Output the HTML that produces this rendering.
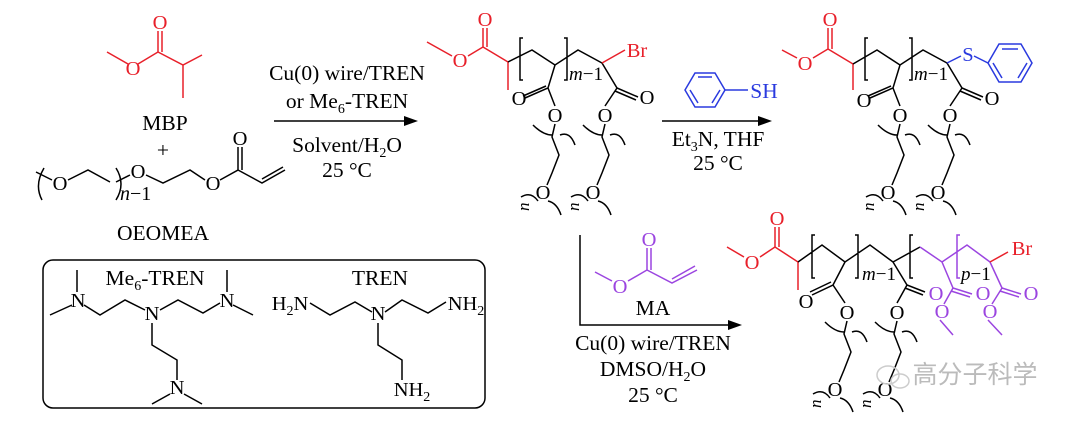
<!DOCTYPE html>
<html><head><meta charset="utf-8"><style>
html,body{margin:0;padding:0;background:#fff;}
svg{display:block;}
text{font-family:"Liberation Serif","Noto Serif CJK SC",serif;font-size:21.5px;}
.l{stroke:#000;stroke-width:1.5;fill:none;}
.r{stroke:#e8202a;stroke-width:1.5;fill:none;}
.b{stroke:#2a3adf;stroke-width:1.5;fill:none;}
.p{stroke:#9b45e0;stroke-width:1.5;fill:none;}
.at{font-size:20.5px;text-anchor:middle;}
</style></head><body>
<svg width="1080" height="422" viewBox="0 0 1080 422" xmlns="http://www.w3.org/2000/svg">
<defs>
<g id="peg">
  <text x="0" y="7" class="at">O</text>
  <path class="l" d="M0,9 L-3,22 L4,40 L-3,58 L-8,70"/>
  <path class="l" d="M-22,10 Q-12,20 -3,20"/>
  <path class="l" d="M5,20 Q15,16 20,30"/>
  <text x="-12" y="84" class="at">O</text>
  <path class="l" d="M-34,82 Q-24,76 -17,86"/>
  <path class="l" d="M-7,86 Q2,88 6,100"/>
  <text transform="translate(-26,96) rotate(-90)" style="font-style:italic;font-size:17px">n</text>
</g>
</defs>

<!-- MBP -->
<path class="r" d="M107,52 L128,64 M138,64 L158,52 L158,31 M162,52 L162,31 M158,52 L183,65 L202,55 M183,65 L183,98"/>
<text x="133" y="75" class="at" fill="#e8202a">O</text>
<text x="160" y="29" class="at" fill="#e8202a">O</text>
<text x="165" y="130" text-anchor="middle">MBP</text>
<text x="163" y="157" text-anchor="middle">+</text>
<!-- OEOMEA -->
<path class="l" d="M44,168 Q34,185 42,200 M36,172 L52,180 M68,180 L88,170 L110,182 M116,168 Q126,184 116,200 M116,182 L130,175 M146,175 L163,183 L190,170 L205,180 M220,180 L238,170 L238,147 M242,170 L242,147 M238,170 L262,183 L285,170 M262,179 L283,167"/>
<text x="60" y="190" class="at">O</text>
<text x="138" y="178" class="at">O</text>
<text x="213" y="190" class="at">O</text>
<text x="240" y="145" class="at">O</text>
<text x="120" y="200" style="font-size:20px"><tspan font-style="italic">n</tspan>−1</text>
<text x="163" y="240" text-anchor="middle">OEOMEA</text>

<!-- Arrow 1 -->
<text x="347" y="80" text-anchor="middle">Cu(0) wire/TREN</text>
<text x="347" y="108" text-anchor="middle">or Me<tspan font-size="14" dy="5">6</tspan><tspan dy="-5">-TREN</tspan></text>
<line class="l" x1="274" y1="121" x2="410" y2="121"/>
<polygon points="418,121 404,116 404,126" fill="#000"/>
<text x="347" y="152" text-anchor="middle">Solvent/H<tspan font-size="14" dy="5">2</tspan><tspan dy="-5">O</tspan></text>
<text x="347" y="177" text-anchor="middle">25 °C</text>

<!-- Box -->
<rect x="43" y="260" width="442" height="148" rx="10" ry="10" fill="none" stroke="#000" stroke-width="1.5"/>
<text x="155" y="285" text-anchor="middle">Me<tspan font-size="14" dy="5">6</tspan><tspan dy="-5">-TREN</tspan></text>
<text x="380" y="285" text-anchor="middle">TREN</text>
<path class="l" d="M77,270 L77,292 M72,305 L50,315 M84,305 L100,315 L125,300 L145,310 M160,310 L178,300 L203,313 L220,303 M227,270 L227,292 M233,305 L253,315 M152,323 L152,345 L177,360 L177,380 M170,394 L152,404 M184,394 L202,404"/>
<text x="78" y="307" class="at">N</text>
<text x="152" y="320" class="at">N</text>
<text x="227" y="307" class="at">N</text>
<text x="177" y="394" class="at">N</text>
<path class="l" d="M310,303 L330,315 L355,302 L372,312 M385,312 L402,300 L428,313 L446,302 M378,323 L378,345 L402,360 L402,380"/>
<text x="290" y="310" class="at">H<tspan font-size="14" dy="5">2</tspan><tspan dy="-5">N</tspan></text>
<text x="378" y="320" class="at">N</text>
<text x="466" y="310" class="at">NH<tspan font-size="14" dy="5">2</tspan></text>
<text x="412" y="396" class="at">NH<tspan font-size="14" dy="5">2</tspan></text>

<!-- Polymer 1 -->
<g transform="translate(-345,0)">
<path class="r" d="M772,42 L797,56 M813,56 L828,47 L828,28 M832,47 L832,28 M828,47 L853,62 M853,62 L853,90"/>
<text x="805" y="67" class="at" fill="#e8202a">O</text>
<text x="830" y="26" class="at" fill="#e8202a">O</text>
<path class="l" d="M853,62 L877,50 L900,65 L923,50 L947,63 M868,38 L865,38 L865,80 L868,80 M909,38 L912,38 L912,80 L909,80 M900,65 L893,88 L870,98 M891,86 L868,96 M893,88 L900,106 M947,63 L962,88 L983,97 M960,91 L981,100 M962,88 L950,106"/>
<path class="r" d="M947,63 L970,50"/>
<text x="982" y="57" class="at" fill="#e8202a">Br</text>
<text x="864" y="105" class="at">O</text>
<text x="992" y="104" class="at">O</text>
<text x="914" y="80" style="font-size:19px"><tspan font-style="italic">m</tspan>−1</text>
<use href="#peg" x="900" y="115"/>
<use href="#peg" x="950" y="115"/>
</g>

<!-- Thiophenol arrow -->
<polygon class="b" points="685,90 695,73 715,73 725,90 715,107 695,107"/>
<path class="b" d="M698,77 L712,77 M720,90 L712,103 M698,103 L690,90"/>
<line class="b" x1="725" y1="90" x2="748" y2="90"/>
<text x="764" y="98" text-anchor="middle" fill="#2a3adf">SH</text>
<line class="l" x1="662" y1="121" x2="764" y2="121"/>
<polygon points="772,121 758,116 758,126" fill="#000"/>
<text x="718" y="146" text-anchor="middle">Et<tspan font-size="14" dy="5">3</tspan><tspan dy="-5">N, THF</tspan></text>
<text x="718" y="170" text-anchor="middle">25 °C</text>

<!-- Polymer 2 -->
<path class="r" d="M782,50 L797,58 M813,58 L828,49 L828,28 M832,49 L832,28 M828,49 L853,64 M853,64 L853,90"/>
<text x="805" y="70" class="at" fill="#e8202a">O</text>
<text x="830" y="26" class="at" fill="#e8202a">O</text>
<path class="l" d="M853,64 L877,50 L900,65 L923,50 L947,63 M868,38 L865,38 L865,80 L868,80 M909,38 L912,38 L912,80 L909,80 M900,65 L893,88 L870,98 M891,86 L868,96 M893,88 L900,106 M947,63 L962,88 L983,97 M960,91 L981,100 M962,88 L950,106"/>
<path class="b" d="M947,63 L961,56 M974,56 L988,63"/>
<text x="968" y="61" class="at" fill="#2a3adf">S</text>
<polygon class="b" points="988,63 999,44 1021,44 1032,63 1021,82 999,82"/>
<path class="b" d="M1002,49 L1018,49 M1027,63 L1018,78 M1002,78 L993,63"/>
<text x="864" y="107" class="at">O</text>
<text x="992" y="105" class="at">O</text>
<text x="914" y="80" style="font-size:19px"><tspan font-style="italic">m</tspan>−1</text>
<use href="#peg" x="900" y="115"/>
<use href="#peg" x="950" y="115"/>

<!-- MA arrow -->
<path class="l" d="M580,235 L580,325 L734,325"/>
<polygon points="742,325 728,320 728,330" fill="#000"/>
<path class="p" d="M595,272 L612,281 M628,281 L647,270 L647,248 M651,270 L651,248 M647,270 L672,283 L697,270 M672,279 L695,266"/>
<text x="620" y="293" class="at" fill="#9b45e0">O</text>
<text x="649" y="246" class="at" fill="#9b45e0">O</text>
<text x="653" y="315" text-anchor="middle">MA</text>
<text x="653" y="350" text-anchor="middle">Cu(0) wire/TREN</text>
<text x="653" y="376" text-anchor="middle">DMSO/H<tspan font-size="14" dy="5">2</tspan><tspan dy="-5">O</tspan></text>
<text x="653" y="402" text-anchor="middle">25 °C</text>

<!-- Polymer 3 -->
<path class="r" d="M727,247 L744,257 M760,257 L775,247 L775,227 M779,247 L779,227 M775,247 L798,262 L798,290"/>
<text x="752" y="269" class="at" fill="#e8202a">O</text>
<text x="777" y="225" class="at" fill="#e8202a">O</text>
<path class="l" d="M798,262 L822,245 L845,262 L870,245 L893,262 L920,247 M815,235 L812,235 L812,278 L815,278 M855,235 L858,235 L858,278 L855,278 M913,235 L910,235 L910,278 L913,278 M845,262 L833,285 L812,295 M831,282 L810,292 M833,285 L845,303 M893,262 L907,285 L925,292 M905,288 L923,295 M907,285 L897,303"/>
<text x="806" y="308" class="at">O</text>
<text x="936" y="300" class="at" fill="#9b45e0">O</text>
<text x="862" y="280" style="font-size:19px"><tspan font-style="italic">m</tspan>−1</text>
<path class="p" d="M920,247 L942,262 L967,245 L990,262 M960,235 L957,235 L957,278 L960,278 M942,262 L953,288 L972,294 M951,291 L970,297 M953,288 L944,304 M940,320 L953,335 M990,262 L1002,288 L1021,294 M1000,291 L1019,297 M1002,288 L992,304 M988,320 L1002,335"/>
<text x="961" y="280" style="font-size:19px" fill="#000"><tspan font-style="italic">p</tspan>−1</text>
<text x="983" y="300" class="at" fill="#9b45e0">O</text>
<text x="1031" y="300" class="at" fill="#9b45e0">O</text>
<text x="942" y="318" class="at" fill="#9b45e0">O</text>
<text x="990" y="318" class="at" fill="#9b45e0">O</text>
<path class="r" d="M990,262 L1008,252"/>
<text x="1022" y="255" class="at" fill="#e8202a">Br</text>
<use href="#peg" x="847" y="312"/>
<use href="#peg" x="897" y="312"/>

<!-- watermark -->
<text x="975" y="383" text-anchor="middle" fill="#bbb" style="font-family:'Noto Sans CJK SC',sans-serif;font-size:25px">高分子科学</text>
<ellipse cx="888" cy="375" rx="11" ry="9" fill="none" stroke="#ccc" stroke-width="1.5"/>
<ellipse cx="900" cy="381" rx="9" ry="7" fill="none" stroke="#ccc" stroke-width="1.5"/>
</svg>
</body></html>
